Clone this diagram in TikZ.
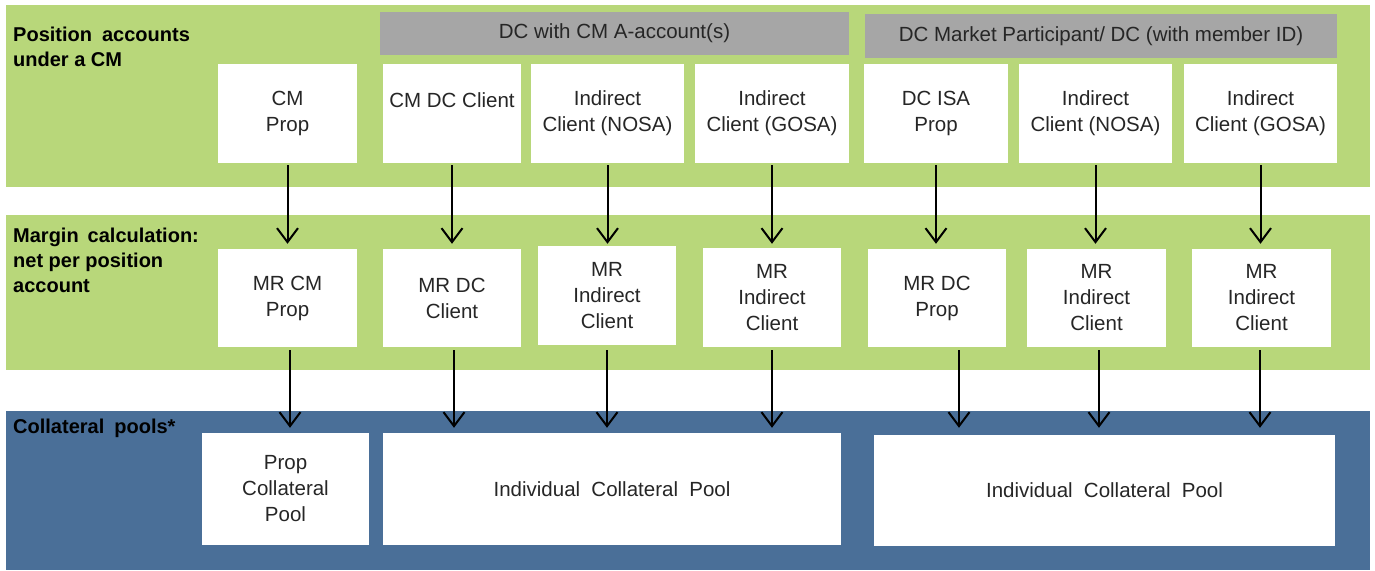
\documentclass[tikz,border=0pt]{standalone}
\usepackage{fontspec}
\setmainfont{Liberation Sans}
\usetikzlibrary{arrows.meta,calc}
\definecolor{bandgreen}{HTML}{B8D77A}
\definecolor{bandblue}{HTML}{4A6F98}
\definecolor{hdrgray}{HTML}{A6A6A6}
\definecolor{txt}{HTML}{262626}
\begin{document}
\begin{tikzpicture}[x=1pt,y=-1pt,
  box/.style={fill=white, inner sep=0pt, align=center, text=txt, font=\fontsize{20.5}{26}\selectfont},
  hdr/.style={fill=hdrgray, inner sep=0pt, align=center, text=txt, font=\fontsize{20.5}{26}\selectfont},
  lbl/.style={anchor=north west, align=left, inner sep=0pt, text=black, font=\bfseries\fontsize{20}{25}\selectfont},
  flow/.style={line width=2pt, -{Straight Barb[length=14pt,width=21pt]}}]
\useasboundingbox (0,0) rectangle (1375,570);
\fill[white] (0,0) rectangle (1375,570);
% bands
\fill[bandgreen] (6,5) rectangle (1370,187);
\fill[bandgreen] (6,215) rectangle (1370,370);
\fill[bandblue] (6,411) rectangle (1370,570);
% section labels
\node[lbl] (l1) at (13,27) {Position\hspace{0.5em}accounts\\under a CM};
\node[lbl] (l2) at (13,228) {Margin\hspace{0.45em}calculation:\\net per position\\account};
\node[lbl] (l3) at (13,419) {Collateral\hspace{0.5em}pools*};
% header boxes
\node[hdr, minimum width=469, minimum height=43] (g1) at (614.5,33.5) {DC with CM A-account(s)};
\node[hdr, minimum width=472, minimum height=44] (g2) at (1101,36) {DC Market Participant/ DC (with member ID)};
% top row
\node[box, minimum width=139, minimum height=99] (t1) at (287.5,113.5) {CM\\Prop};
\node[box, minimum width=138, minimum height=99] (t2) at (452,113.5) {CM DC Client\\\mbox{}};
\node[box, minimum width=153, minimum height=99] (t3) at (607.5,113.5) {Indirect\\Client (NOSA)};
\node[box, minimum width=154, minimum height=99] (t4) at (772,113.5) {Indirect\\Client (GOSA)};
\node[box, minimum width=144, minimum height=99] (t5) at (936,113.5) {DC ISA\\Prop};
\node[box, minimum width=153, minimum height=99] (t6) at (1095.5,113.5) {Indirect\\Client (NOSA)};
\node[box, minimum width=153, minimum height=99] (t7) at (1260.5,113.5) {Indirect\\Client (GOSA)};
% middle row
\node[box, minimum width=139, minimum height=98] (m1) at (287.5,298) {MR CM\\Prop};
\node[box, minimum width=138, minimum height=98] (m2) at (452,298) {MR DC\\Client};
\node[box, minimum width=138, minimum height=99] (m3) at (607,295.5) {MR\\Indirect\\Client};
\node[box, minimum width=138, minimum height=99] (m4) at (772,297.5) {MR\\Indirect\\Client};
\node[box, minimum width=138, minimum height=98] (m5) at (937,298) {MR DC\\Prop};
\node[box, minimum width=139, minimum height=98] (m6) at (1096.5,298) {MR\\Indirect\\Client};
\node[box, minimum width=139, minimum height=98] (m7) at (1261.5,298) {MR\\Indirect\\Client};
% pools
\node[box, minimum width=167, minimum height=112] (p1) at (285.5,489) {Prop\\Collateral\\Pool};
\node[box, minimum width=458, minimum height=112] (p2) at (612,489) {Individual\hspace{0.55em}Collateral\hspace{0.55em}Pool};
\node[box, minimum width=461, minimum height=111] (p3) at (1104.5,490.5) {Individual\hspace{0.55em}Collateral\hspace{0.55em}Pool};
% arrows top -> middle
\foreach \a/\b in {t1/m1,t2/m2,t3/m3,t4/m4,t5/m5,t6/m6,t7/m7}
  \draw[flow, shorten <=2pt, shorten >=5pt] (\a.south) -- (\a.south |- m1.north);
% arrow start points under the margin boxes
\coordinate (s1) at ($(m1.south)+(2.5,0)$);
\coordinate (s2) at ($(m2.south)+(2,0)$);
\coordinate (s3) at (m3.south |- m2.south);
\coordinate (s4) at (m4.south);
\coordinate (s5) at ($(m5.south)+(22,0)$);
\coordinate (s6) at ($(m6.south)+(2.5,0)$);
\coordinate (s7) at ($(m7.south)+(-1.5,0)$);
% arrows middle -> pools
\draw[flow, shorten <=3pt, shorten >=5pt] (s1) -- (s1 |- p1.north);
\draw[flow, shorten <=3pt, shorten >=5pt] (s2) -- (s2 |- p2.north);
\draw[flow, shorten <=3pt, shorten >=5pt] (s3) -- (s3 |- p2.north);
\draw[flow, shorten <=3pt, shorten >=5pt] (s4) -- (s4 |- p2.north);
\draw[flow, shorten <=3pt, shorten >=7pt] (s5) -- (s5 |- p3.north);
\draw[flow, shorten <=3pt, shorten >=7pt] (s6) -- (s6 |- p3.north);
\draw[flow, shorten <=3pt, shorten >=7pt] (s7) -- (s7 |- p3.north);
\end{tikzpicture}
\end{document}
